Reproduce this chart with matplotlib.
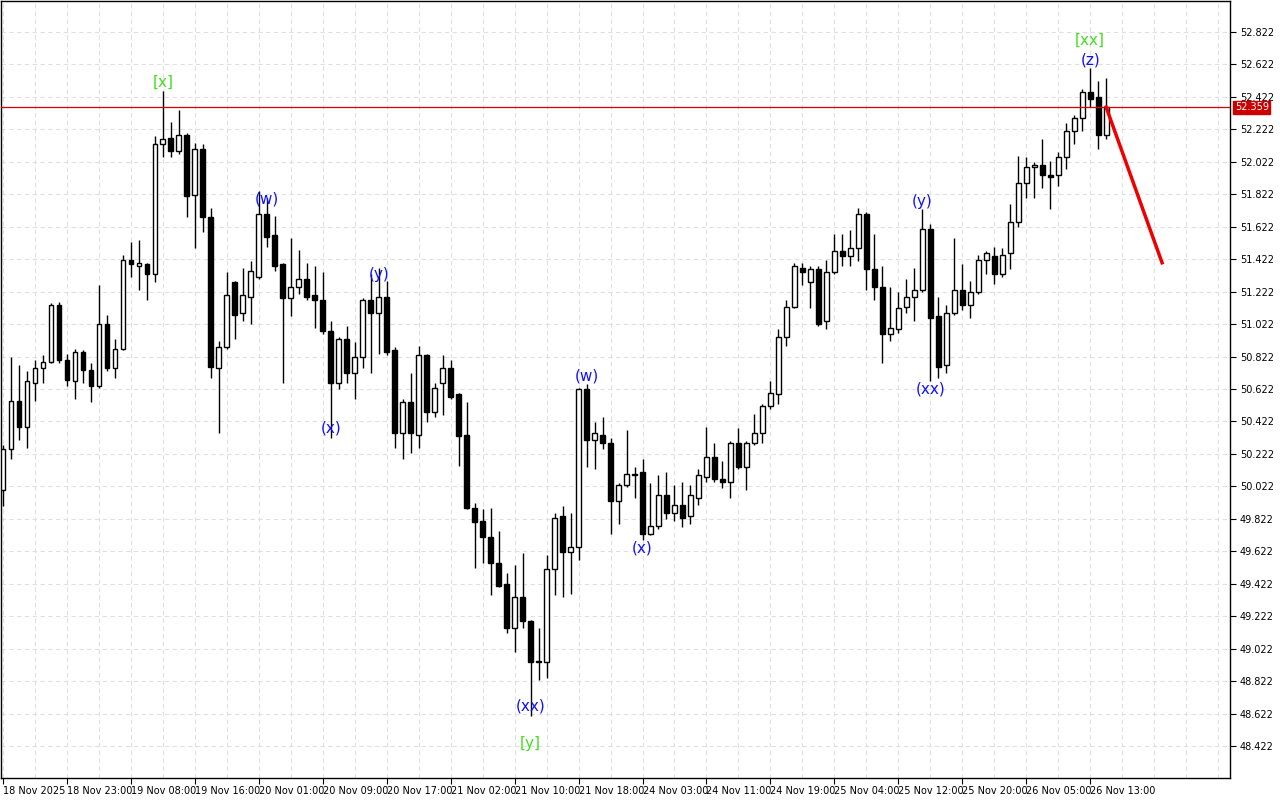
import matplotlib
matplotlib.use("Agg")
import matplotlib.pyplot as plt
from matplotlib.patches import Rectangle
from matplotlib.transforms import blended_transform_factory

opens = [50.00,50.25,50.55,50.39,50.66,50.75,50.79,51.14,50.80,50.67,50.85,50.74,50.64,51.02,50.75,50.87,51.42,51.38,51.39,51.33,
         52.13,52.17,52.09,52.19,51.82,52.10,51.68,50.75,50.88,51.28,51.09,51.19,51.31,51.70,51.57,51.39,51.18,51.25,51.30,51.20,
         51.17,50.98,50.66,50.93,50.72,50.82,51.17,51.09,51.19,50.86,50.35,50.54,50.34,50.83,50.48,50.66,50.75,50.59,50.34,49.89,
         49.81,49.71,49.55,49.42,49.15,49.34,49.19,48.94,48.94,49.51,49.84,49.62,49.65,50.62,50.31,50.34,50.29,49.93,50.03,50.10,
         50.11,49.73,49.78,49.97,49.86,49.91,49.84,49.95,50.08,50.20,50.07,50.05,50.29,50.14,50.29,50.35,50.52,50.59,50.94,51.13,
         51.37,51.28,51.36,51.04,51.34,51.47,51.44,51.49,51.70,51.36,51.25,50.96,50.99,51.13,51.19,51.23,51.61,51.07,50.77,51.09,
         51.23,51.14,51.22,51.42,51.44,51.33,51.46,51.65,51.89,51.99,52.00,51.94,51.94,52.05,52.21,52.29,52.45,52.42,52.19]
closes = [50.25,50.55,50.39,50.67,50.75,50.79,51.14,50.80,50.68,50.85,50.74,50.64,51.02,50.75,50.87,51.42,51.39,51.40,51.33,52.13,
          52.16,52.09,52.19,51.81,52.10,51.68,50.76,50.88,51.20,51.08,51.20,51.35,51.70,51.56,51.38,51.18,51.25,51.30,51.19,51.17,
          50.98,50.66,50.93,50.72,50.82,51.17,51.09,51.19,50.85,50.35,50.54,50.35,50.83,50.48,50.63,50.75,50.57,50.33,49.89,49.80,
          49.71,49.55,49.41,49.15,49.34,49.19,48.94,48.94,49.51,49.83,49.62,49.65,50.62,50.31,50.35,50.29,49.93,50.03,50.10,50.09,
          49.73,49.78,49.97,49.86,49.91,49.83,49.97,50.09,50.20,50.07,50.05,50.29,50.14,50.29,50.35,50.52,50.60,50.94,51.13,51.38,
          51.34,51.36,51.02,51.34,51.47,51.44,51.49,51.70,51.36,51.25,50.96,51.00,51.12,51.19,51.23,51.61,51.06,50.76,51.09,51.23,
          51.14,51.22,51.42,51.46,51.33,51.45,51.65,51.89,51.99,52.00,51.94,51.93,52.05,52.21,52.29,52.45,52.41,52.19,52.359]
highs = [50.28,50.82,50.77,50.73,50.80,50.83,51.15,51.16,50.84,50.87,50.86,50.78,51.26,51.08,50.93,51.45,51.53,51.54,51.40,52.18,
         52.46,52.27,52.34,52.20,52.14,52.13,51.74,50.92,51.34,51.29,51.37,51.41,51.84,51.80,51.69,51.40,51.55,51.48,51.40,51.38,
         51.34,51.04,50.94,51.01,50.91,51.18,51.33,51.37,51.29,50.88,50.56,50.72,50.89,50.84,50.66,50.83,50.80,50.60,50.54,49.92,
         49.88,49.89,49.75,49.49,49.54,49.61,49.20,49.15,49.60,49.86,49.90,49.86,50.63,50.65,50.42,50.45,50.32,50.04,50.37,50.14,
         50.19,50.04,50.09,50.11,50.03,50.05,50.03,50.13,50.39,50.29,50.18,50.30,50.38,50.30,50.47,50.53,50.67,50.99,51.17,51.40,
         51.40,51.38,51.38,51.42,51.58,51.58,51.60,51.74,51.71,51.58,51.38,51.25,51.22,51.30,51.37,51.73,51.64,51.19,51.14,51.55,
         51.39,51.29,51.45,51.47,51.50,51.49,51.76,52.06,52.05,52.02,52.16,52.03,52.08,52.26,52.31,52.47,52.60,52.52,52.54]
lows = [49.90,50.19,50.31,50.26,50.55,50.66,50.78,50.78,50.64,50.56,50.66,50.54,50.63,50.73,50.69,50.86,51.31,51.23,51.17,51.28,
        52.05,52.05,52.07,51.68,51.49,51.59,50.69,50.35,50.87,50.93,51.04,51.02,51.30,51.50,51.35,50.66,51.07,51.21,51.17,51.00,
        50.96,50.32,50.62,50.66,50.56,50.75,50.72,50.84,50.83,50.26,50.19,50.23,50.26,50.42,50.45,50.46,50.56,50.15,49.88,49.52,
        49.55,49.35,49.40,49.12,49.00,49.15,48.61,48.83,48.84,49.35,49.34,49.36,49.57,50.14,50.13,50.25,49.73,49.79,50.02,49.95,
        49.69,49.72,49.76,49.82,49.81,49.77,49.79,49.91,50.05,50.05,50.01,49.95,50.13,50.00,50.28,50.29,50.50,50.53,50.89,51.12,
        51.26,51.12,51.01,50.99,51.33,51.38,51.38,51.41,51.23,51.17,50.78,50.92,50.97,51.09,51.04,51.22,50.67,50.69,50.72,51.08,
        51.11,51.06,51.21,51.33,51.27,51.31,51.36,51.62,51.80,51.80,51.86,51.73,51.87,51.98,52.13,52.21,52.36,52.10,52.16]

last_price = 52.359
forecast_bars = [138, 145]
forecast_prices = [52.359, 51.40]

wave_texts = ["[x]", "(w)", "(x)", "(y)", "(xx)", "[y]", "(w)", "(x)", "(y)", "(xx)", "(z)", "[xx]"]
wave_bars = [20, 33, 41, 47, 66, 66, 73, 80, 115, 116, 136, 136]
wave_prices = [52.51, 51.79, 50.38, 51.33, 48.67, 48.44, 50.70, 49.64, 51.78, 50.62, 52.65, 52.77]
wave_green = [True, False, False, False, False, True, False, False, False, False, False, True]

yticks = [48.422 + 0.2 * i for i in range(23)]
xlabels = ["18 Nov 2025", "18 Nov 23:00", "19 Nov 08:00", "19 Nov 16:00", "20 Nov 01:00", "20 Nov 09:00",
           "20 Nov 17:00", "21 Nov 02:00", "21 Nov 10:00", "21 Nov 18:00", "24 Nov 03:00", "24 Nov 11:00",
           "24 Nov 19:00", "25 Nov 04:00", "25 Nov 12:00", "25 Nov 20:00", "26 Nov 05:00", "26 Nov 13:00"]

fig = plt.figure(figsize=(12.8, 8.0), dpi=100)
ax = fig.add_axes([0.0008, 22/800, 1229/1280, 777/800])
ax.set_xlim(-0.25, 153.5)
ax.set_ylim(48.225, 53.013)

# grid
for b in range(0, 160, 4):
    ax.axvline(b, color="#e0e0e0", lw=0.8, ls=(0, (4, 3)), zorder=0)
for t in yticks:
    ax.axhline(t, color="#e0e0e0", lw=0.8, ls=(0, (4, 3)), zorder=0)

w = 0.6
for i, (o, h, l, c) in enumerate(zip(opens, highs, lows, closes)):
    ax.vlines(i, l, h, color="black", lw=1.0, zorder=2)
    bot = min(o, c)
    ht = max(abs(c - o), 0.004)
    fc = "white" if c >= o else "black"
    ax.add_patch(Rectangle((i - w / 2, bot), w, ht, facecolor=fc, edgecolor="black", lw=1.0, zorder=3))

ax.axhline(last_price, color="#d00000", lw=0.9, zorder=4)
ax.plot(forecast_bars, forecast_prices, color="#ee0000", lw=2.5, zorder=5)

for t, b, p, g in zip(wave_texts, wave_bars, wave_prices, wave_green):
    ax.text(b, p, t, color="#44dd22" if g else "#1010ff", fontsize=11, ha="center", va="center", zorder=6)

ax.yaxis.tick_right()
ax.set_yticks(yticks)
ax.set_yticklabels([f"{t:.3f}" for t in yticks], fontsize=7)
ax.tick_params(axis="y", length=4, pad=3)
ax.set_xticks([8 * k for k in range(len(xlabels))])
ax.set_xticklabels(xlabels, fontsize=7, ha="left")
ax.tick_params(axis="x", length=4, pad=2)
for s in ax.spines.values():
    s.set_color("black")
    s.set_linewidth(1)

tr = blended_transform_factory(ax.transAxes, ax.transData)
ax.text(1.004, last_price, f"{last_price:.3f}", transform=tr, fontsize=7, color="white", va="center", ha="left",
        bbox=dict(boxstyle="square,pad=0.15", facecolor="#cc0000", edgecolor="#cc0000"), zorder=10, clip_on=False)

fig.savefig("out.png", dpi=100)
